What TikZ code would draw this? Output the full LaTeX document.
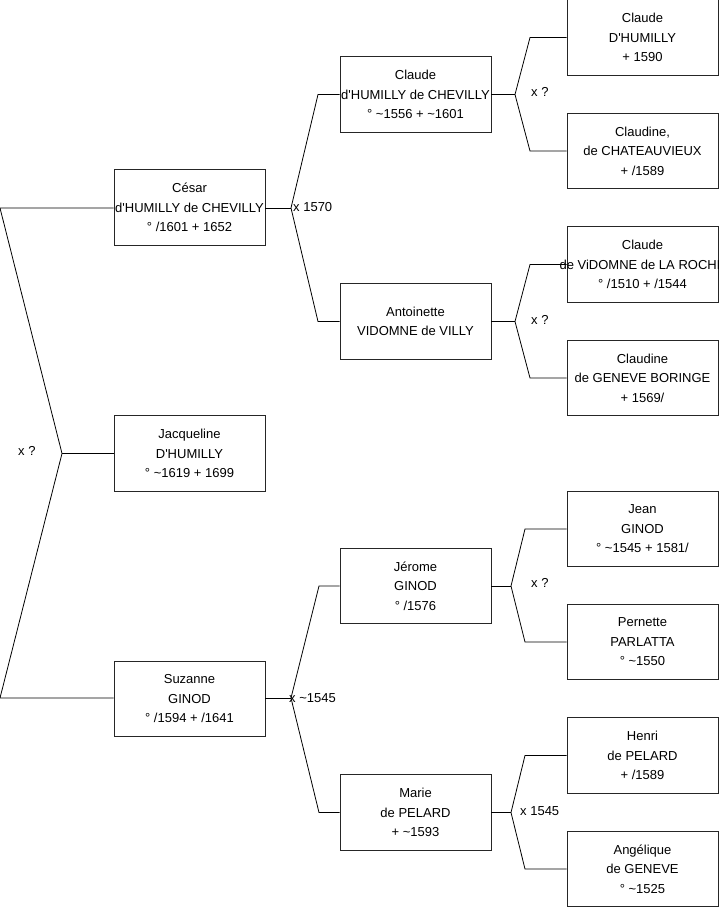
\documentclass[tikz,border=0pt]{standalone}
\usepackage{fontspec}
\setmainfont{Liberation Sans}
\newcommand{\aq}{\textquotesingle}
\begin{document}
\begin{tikzpicture}[x=1pt,y=-1pt,
  person/.style={draw=black!85,line width=0.8pt,minimum width=151pt,minimum height=75.5pt,inner sep=0pt},
  ptext/.style={align=center,inner sep=0pt,font=\fontsize{13}{19.5}\selectfont},
  mlabel/.style={anchor=west,inner sep=0pt,font=\fontsize{13}{15}\selectfont},
  link/.style={draw=black,line width=0.8pt}]
\useasboundingbox (0,0) rectangle (719,908);
% boxes
\node[person] (cesar) at (189.5,207.5) {};
\node[ptext] (cesart) at (cesar) {César\\d\aq HUMILLY de CHEVILLY\\° /1601 + 1652};
\node[person] (jacq) at (189.5,453.5) {};
\node[ptext] (jacqt) at (jacq) {Jacqueline\\D\aq HUMILLY\\° \textasciitilde1619 + 1699};
\node[person] (suz) at (189.5,699) {};
\node[ptext] (suzt) at (suz) {Suzanne\\GINOD\\° /1594 + /1641};
\node[person] (claude) at (415.5,94.5) {};
\node[ptext] (claudet) at (claude) {Claude\\d\aq HUMILLY de CHEVILLY\\° \textasciitilde1556 + \textasciitilde1601};
\node[person] (ant) at (415.5,321.5) {};
\node[ptext] (antt) at (ant) {Antoinette\\VIDOMNE de VILLY};
\node[person] (jer) at (415.5,586) {};
\node[ptext] (jert) at (jer) {Jérome\\GINOD\\° /1576};
\node[person] (marie) at (415.5,812.5) {};
\node[ptext] (mariet) at (marie) {Marie\\de PELARD\\+ \textasciitilde1593};
\node[person] (cdh) at (642.5,37.5) {};
\node[ptext] (cdht) at (cdh) {Claude\\D\aq HUMILLY\\+ 1590};
\node[person] (cch) at (642.5,151) {};
\node[ptext] (ccht) at (cch) {Claudine,\\de CHATEAUVIEUX\\+ /1589};
\node[person] (cvd) at (642.5,264.5) {};
\begin{scope}
\clip (0,0) rectangle (719,908);
\node[ptext] (cvdt) at (cvd) {Claude\\de ViDOMNE de LA ROCHE\\° /1510 + /1544};
\end{scope}
\node[person] (cgb) at (642.5,378) {};
\node[ptext] (cgbt) at (cgb) {Claudine\\de GENEVE BORINGE\\+ 1569/};
\node[person] (jean) at (642.5,529) {};
\node[ptext] (jeant) at (jean) {Jean\\GINOD\\° \textasciitilde1545 + 1581/};
\node[person] (per) at (642.5,642) {};
\node[ptext] (pert) at (per) {Pernette\\PARLATTA\\° \textasciitilde1550};
\node[person] (hen) at (642.5,755.5) {};
\node[ptext] (hent) at (hen) {Henri\\de PELARD\\+ /1589};
\node[person] (ang) at (642.5,869) {};
\node[ptext] (angt) at (ang) {Angélique\\de GENEVE\\° \textasciitilde1525};
% junction coordinates
\coordinate (r1) at (0,208);
\coordinate (r2) at (0,698);
\coordinate (rm) at (62,453.5);
\coordinate (jc) at (291,208);
\coordinate (jc1) at (318,94.5);
\coordinate (jc2) at (318,321.5);
\coordinate (js) at (291,698);
\coordinate (js1) at (319,586);
\coordinate (js2) at (319,812.5);
\coordinate (jcl) at (515,94.5);
\coordinate (jcl1) at (530,37.5);
\coordinate (jcl2) at (530,151);
\coordinate (jan) at (515,321.5);
\coordinate (jan1) at (530,264.5);
\coordinate (jan2) at (530,378);
\coordinate (jje) at (511,586);
\coordinate (jje1) at (525,529);
\coordinate (jje2) at (525,642);
\coordinate (jma) at (511,812.5);
\coordinate (jma1) at (525,755.5);
\coordinate (jma2) at (525,869);
% connectors
\draw[link] (cesar.west |- r1) -- (r1) -- (rm) -- (r2) -- (suz.west |- r2);
\draw[link] (rm) -- (jacq.west);
\draw[link] (cesar.east |- jc) -- (jc);
\draw[link] (claude.west) -- (jc1) -- (jc) -- (jc2) -- (ant.west);
\draw[link] (suz.east |- js) -- (js);
\draw[link] (jer.west) -- (js1) -- (js) -- (js2) -- (marie.west);
\draw[link] (claude.east) -- (jcl);
\draw[link] (cdh.west) -- (jcl1) -- (jcl) -- (jcl2) -- (cch.west);
\draw[link] (ant.east) -- (jan);
\draw[link] (cvd.west) -- (jan1) -- (jan) -- (jan2) -- (cgb.west);
\draw[link] (jer.east) -- (jje);
\draw[link] (jean.west) -- (jje1) -- (jje) -- (jje2) -- (per.west);
\draw[link] (marie.east) -- (jma);
\draw[link] (hen.west) -- (jma1) -- (jma) -- (jma2) -- (ang.west);
% marriage labels
\node[mlabel] (m0) at (18,451) {x ?};
\node[mlabel] (m1) at (293,207) {x 1570};
\node[mlabel] (m2) at (289,698) {x \textasciitilde1545};
\node[mlabel] (m3) at (531,92) {x ?};
\node[mlabel] (m4) at (531,320) {x ?};
\node[mlabel] (m5) at (531,583) {x ?};
\node[mlabel] (m6) at (520,811) {x 1545};
\end{tikzpicture}
\end{document}
